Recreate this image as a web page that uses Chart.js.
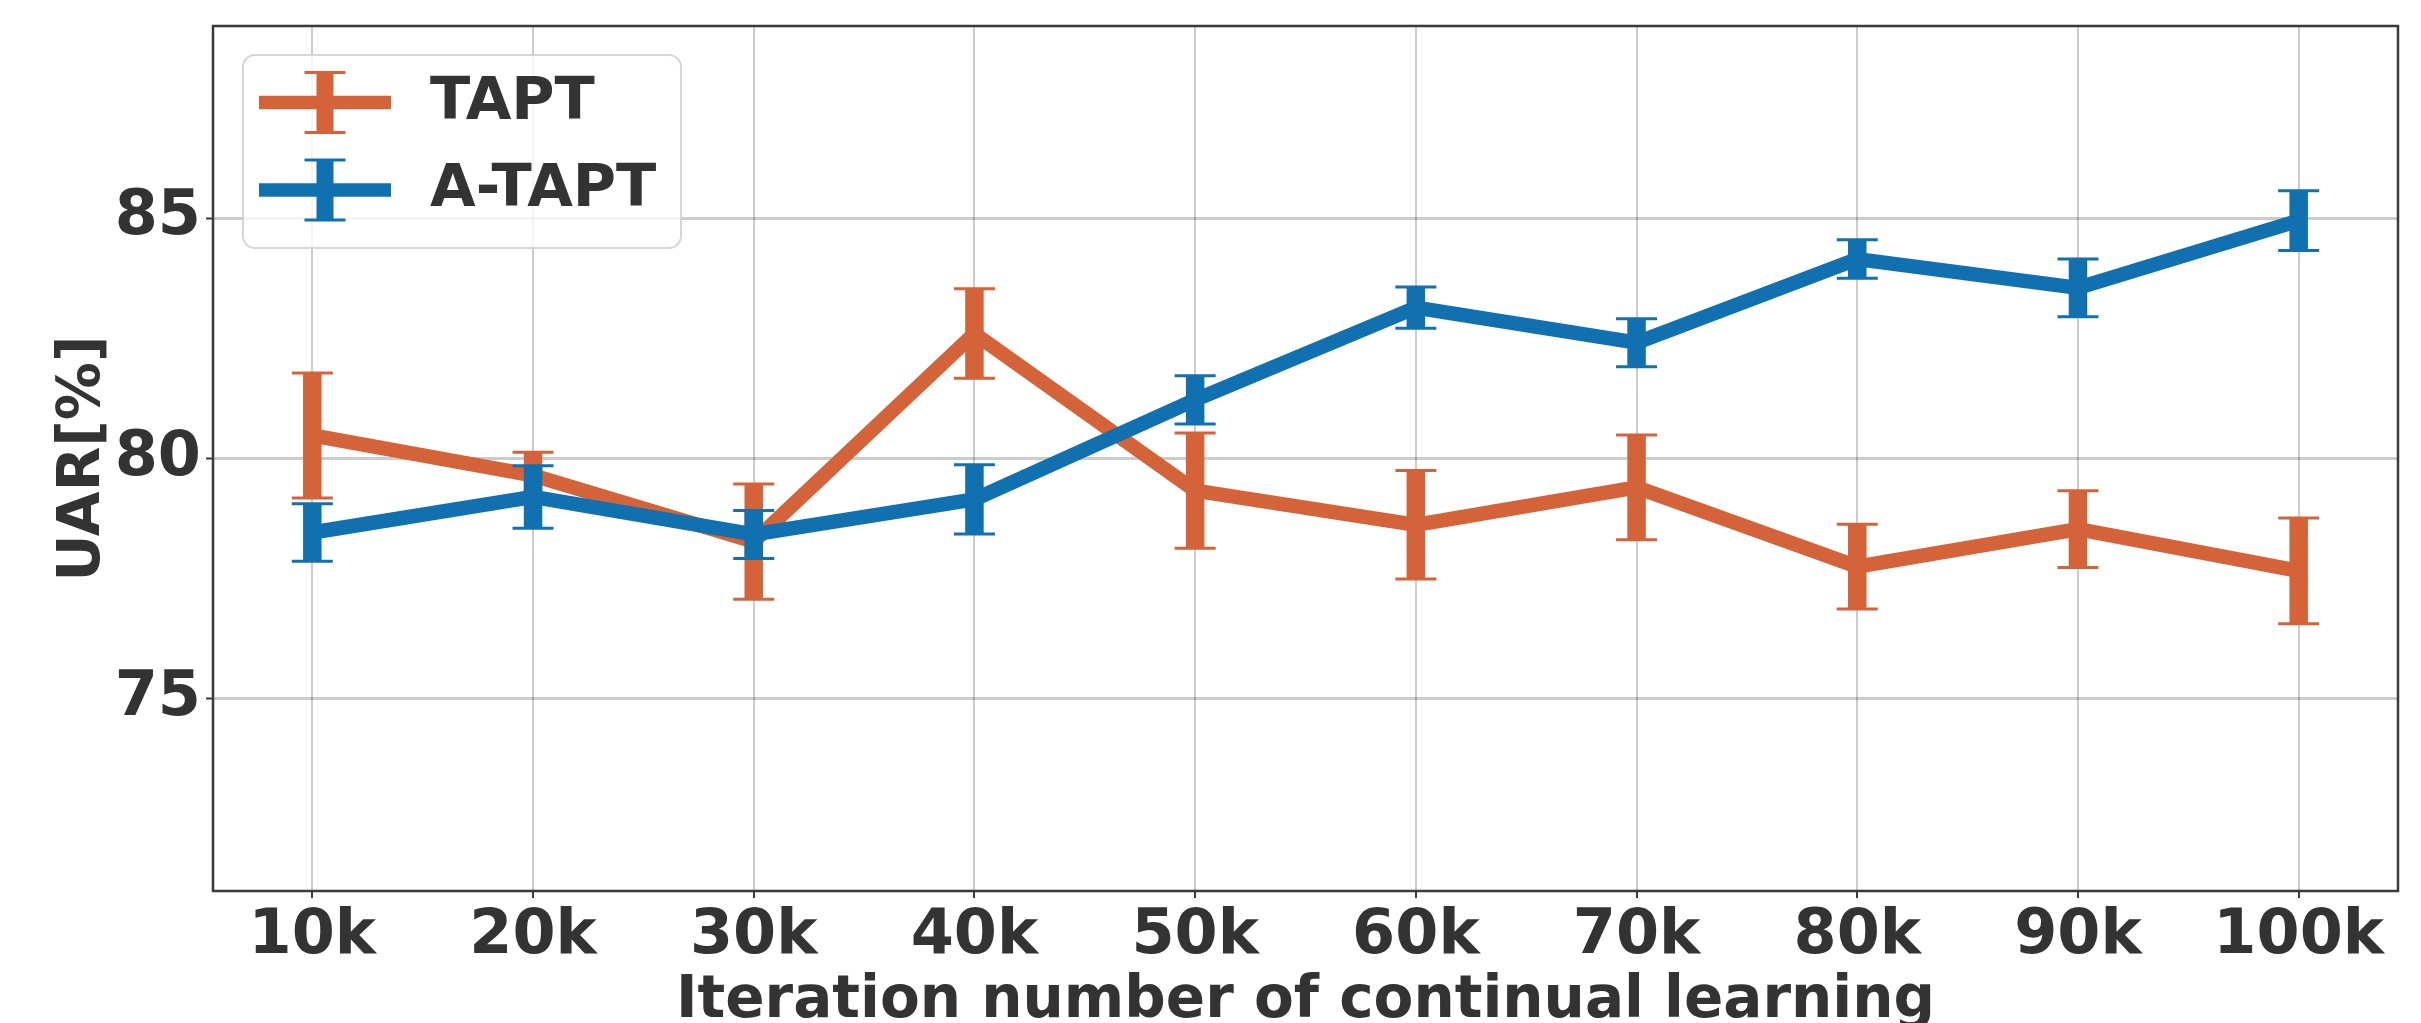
<!DOCTYPE html>
<html>
<head>
<meta charset="utf-8">
<script src="https://cdn.jsdelivr.net/npm/chart.js@4.4.1/dist/chart.umd.min.js"></script>
<style>
  html, body { margin: 0; padding: 0; background: #ffffff; }
  canvas { display: block; }
</style>
</head>
<body>
<canvas id="chart" width="2421" height="1023"></canvas>
<script>
// Iterations of continual learning (in thousands) and their tick labels
const iterations = [10, 20, 30, 40, 50, 60, 70, 80, 90, 100];
const iterationLabels = ['10k', '20k', '30k', '40k', '50k', '60k', '70k', '80k', '90k', '100k'];
const uarTicks = [75, 80, 85];

// UAR [%] mean and error per checkpoint
const taptMean  = [80.48, 79.65, 78.27, 82.60, 79.33, 78.62, 79.40, 77.75, 78.53, 77.66];
const taptErr   = [1.30, 0.48, 1.20, 0.93, 1.20, 1.13, 1.09, 0.88, 0.80, 1.10];
const ataptMean = [78.46, 79.20, 78.42, 79.15, 81.22, 83.14, 82.41, 84.15, 83.55, 84.95];
const ataptErr  = [0.60, 0.65, 0.50, 0.72, 0.50, 0.43, 0.50, 0.40, 0.60, 0.62];

const FONT = '"DejaVu Sans", "Liberation Sans", sans-serif';
const TEXT = '#333333';
const ORANGE = '#d4633a';
const BLUE = '#1171b0';

const LINE_W = 14.5;
const ERR_W = 18.5;
const LEG_LINE_W = 13.5;
const LEG_ERR_W = 17;
const CAP_HALF = 20.5;
const CAP_W = 3;

function toPoints(means) {
  return iterations.map((x, i) => ({ x: x, y: means[i] }));
}

// Vertical error bars with caps, drawn right after their own series
const errorBarPlugin = {
  id: 'errorBars',
  afterDatasetDraw(chart, args) {
    const ds = chart.data.datasets[args.index];
    if (!ds.errors) return;
    const ctx = chart.ctx;
    const xs = chart.scales.x, ys = chart.scales.y;
    ctx.save();
    ctx.strokeStyle = ds.borderColor;
    ds.data.forEach((p, i) => {
      const px = xs.getPixelForValue(p.x);
      const top = ys.getPixelForValue(p.y + ds.errors[i]);
      const bot = ys.getPixelForValue(p.y - ds.errors[i]);
      ctx.lineCap = 'butt';
      ctx.lineWidth = ERR_W;
      ctx.beginPath();
      ctx.moveTo(px, top);
      ctx.lineTo(px, bot);
      ctx.stroke();
      ctx.lineWidth = CAP_W;
      ctx.beginPath();
      ctx.moveTo(px - CAP_HALF, top); ctx.lineTo(px + CAP_HALF, top);
      ctx.moveTo(px - CAP_HALF, bot); ctx.lineTo(px + CAP_HALF, bot);
      ctx.stroke();
    });
    ctx.restore();
  }
};

// Dark frame around the plotting area
const framePlugin = {
  id: 'frame',
  afterDatasetsDraw(chart) {
    const { ctx, chartArea: a } = chart;
    ctx.save();
    ctx.strokeStyle = '#3a3a3a';
    ctx.lineWidth = 2.5;
    ctx.strokeRect(a.left, a.top, a.right - a.left, a.bottom - a.top);
    ctx.restore();
  }
};

// Framed legend in the upper-left corner with error-bar handles
const legendPlugin = {
  id: 'boxLegend',
  afterDraw(chart) {
    const { ctx, chartArea: a } = chart;
    const bx = a.left + 30, by = a.top + 29, bw = 438, bh = 193, r = 12;
    ctx.save();
    ctx.beginPath();
    ctx.moveTo(bx + r, by);
    ctx.arcTo(bx + bw, by, bx + bw, by + bh, r);
    ctx.arcTo(bx + bw, by + bh, bx, by + bh, r);
    ctx.arcTo(bx, by + bh, bx, by, r);
    ctx.arcTo(bx, by, bx + bw, by, r);
    ctx.closePath();
    ctx.fillStyle = 'rgba(255,255,255,0.8)';
    ctx.fill();
    ctx.strokeStyle = 'rgba(204,204,204,0.8)';
    ctx.lineWidth = 2;
    ctx.stroke();

    const rows = [by + 47.5, by + 135];
    const order = chart.data.datasets
      .map((d, i) => ({ d, i }))
      .sort((p, q) => p.d.legendRank - q.d.legendRank);
    order.forEach(({ d }, k) => {
      const cy = rows[k];
      const x0 = bx + 16, x1 = bx + 148, xc = bx + 82;
      ctx.strokeStyle = d.borderColor;
      ctx.lineCap = 'butt';
      ctx.lineWidth = LEG_LINE_W;
      ctx.beginPath(); ctx.moveTo(x0, cy); ctx.lineTo(x1, cy); ctx.stroke();
      ctx.lineWidth = LEG_ERR_W;
      ctx.beginPath(); ctx.moveTo(xc, cy - 30); ctx.lineTo(xc, cy + 30); ctx.stroke();
      ctx.lineWidth = CAP_W;
      ctx.beginPath();
      ctx.moveTo(xc - CAP_HALF, cy - 30); ctx.lineTo(xc + CAP_HALF, cy - 30);
      ctx.moveTo(xc - CAP_HALF, cy + 30); ctx.lineTo(xc + CAP_HALF, cy + 30);
      ctx.stroke();
      ctx.fillStyle = TEXT;
      ctx.font = 'bold 59px ' + FONT;
      ctx.textAlign = 'left';
      ctx.textBaseline = 'middle';
      ctx.fillText(d.label, bx + 187, cy + 1);
    });
    ctx.restore();
  }
};

new Chart(document.getElementById('chart'), {
  type: 'line',
  data: {
    datasets: [
      {
        label: 'TAPT',
        legendRank: 0,
        order: 2,
        data: toPoints(taptMean),
        errors: taptErr,
        borderColor: ORANGE,
        backgroundColor: ORANGE,
        borderWidth: LINE_W,
        borderJoinStyle: 'round',
        borderCapStyle: 'butt',
        pointRadius: 0,
        tension: 0,
        fill: false
      },
      {
        label: 'A-TAPT',
        legendRank: 1,
        order: 1,
        data: toPoints(ataptMean),
        errors: ataptErr,
        borderColor: BLUE,
        backgroundColor: BLUE,
        borderWidth: LINE_W,
        borderJoinStyle: 'round',
        borderCapStyle: 'butt',
        pointRadius: 0,
        tension: 0,
        fill: false
      }
    ]
  },
  options: {
    responsive: false,
    animation: false,
    devicePixelRatio: 1,
    layout: { padding: { left: 0, top: 26, right: 23, bottom: 0 } },
    plugins: {
      legend: { display: false },
      tooltip: { enabled: false }
    },
    scales: {
      x: {
        type: 'linear',
        min: 5.5,
        max: 104.5,
        afterBuildTicks: (s) => { s.ticks = iterations.map(v => ({ value: v })); },
        afterFit: (s) => { s.height = 132; s.paddingLeft = 0; s.paddingRight = 0; },
        ticks: {
          autoSkip: false,
          maxRotation: 0,
          padding: 2,
          color: TEXT,
          font: { family: FONT, size: 62, weight: 'bold' },
          callback: (v) => iterationLabels[iterations.indexOf(v)]
        },
        grid: {
          color: 'rgba(0,0,0,0.2)',
          lineWidth: 2,
          drawTicks: true,
          tickLength: 7,
          tickColor: '#3a3a3a',
          tickWidth: 2
        },
        border: { display: false },
        title: {
          display: true,
          text: 'Iteration number of continual learning',
          color: TEXT,
          font: { family: FONT, size: 58, weight: 'bold', lineHeight: 0.95 },
          padding: { top: -6, bottom: -6 }
        }
      },
      y: {
        type: 'linear',
        min: 71,
        max: 89,
        afterBuildTicks: (s) => { s.ticks = uarTicks.map(v => ({ value: v })); },
        afterFit: (s) => { s.width = 213; s.paddingTop = 0; s.paddingBottom = 0; },
        ticks: {
          padding: 5,
          color: TEXT,
          font: { family: FONT, size: 62, weight: 'bold' },
          callback: (v) => String(v)
        },
        grid: {
          color: 'rgba(0,0,0,0.2)',
          lineWidth: 3,
          drawTicks: true,
          tickLength: 7,
          tickColor: '#3a3a3a',
          tickWidth: 2
        },
        border: { display: false },
        title: {
          display: true,
          text: 'UAR[%]',
          color: TEXT,
          font: { family: FONT, size: 58, weight: 'bold', lineHeight: 1 },
          padding: { top: 55, bottom: 55 }
        }
      }
    }
  },
  plugins: [errorBarPlugin, framePlugin, legendPlugin]
});
</script>
</body>
</html>
